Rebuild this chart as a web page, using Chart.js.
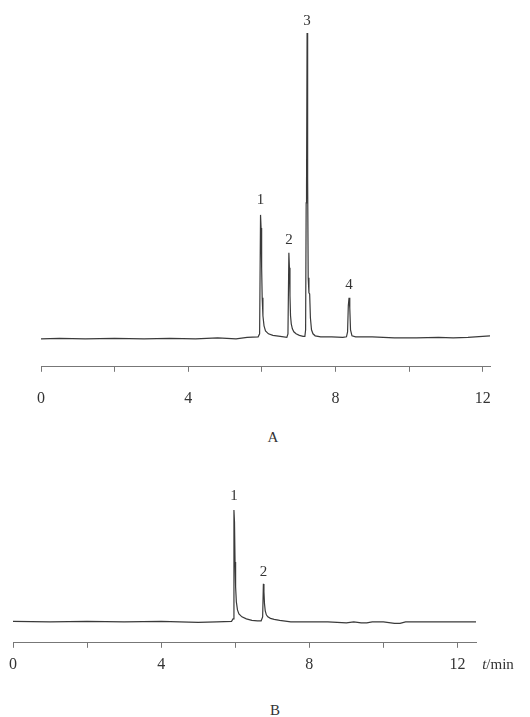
<!DOCTYPE html>
<html>
<head>
<meta charset="utf-8">
<script src="https://cdn.jsdelivr.net/npm/chart.js@4.4.1/dist/chart.umd.min.js"></script>
<style>
  html, body { margin: 0; padding: 0; background: #fff; }
  body { width: 530px; height: 717px; position: relative; overflow: hidden;
         font-family: "Liberation Serif", "DejaVu Serif", serif; color: #333; }
  canvas { position: absolute; left: 0; }
  #chartA { top: 0; }
  #chartB { top: 480px; }
  .lbl { position: absolute; font-size: 15px; line-height: 1; transform: translate(-50%, -50%); white-space: nowrap; }
</style>
</head>
<body>
<canvas id="chartA" width="530" height="425"></canvas>
<canvas id="chartB" width="530" height="201"></canvas>
<div class="lbl" style="left:273px;top:437px">A</div>
<div class="lbl" style="left:275px;top:710px">B</div>
<div class="lbl" style="left:498px;top:664px"><i>t</i>/min</div>
<script>
// Axis ticks (retention time, min)
const tickValues = [0, 2, 4, 6, 8, 10, 12];
const labeledTicks = [0, 4, 8, 12];

// Chromatogram A: time (min) / detector response (arbitrary units)
const timesA = [
  0, 0.5, 1.2, 2.0, 2.8, 3.5, 4.2, 4.8, 5.3, 5.6,
  5.9, 5.94, 5.965, 5.98, 5.995, 6.01, 6.03, 6.06, 6.10, 6.18,
  6.30, 6.50, 6.68, 6.71, 6.735, 6.75, 6.765, 6.78, 6.80, 6.83,
  6.87, 6.93, 7.02, 7.12, 7.17, 7.19, 7.205, 7.215, 7.23, 7.245,
  7.26, 7.28, 7.30, 7.32, 7.35, 7.39, 7.45, 7.60, 7.90, 8.20,
  8.30, 8.33, 8.35, 8.37, 8.39, 8.41, 8.45, 8.55, 9.0, 9.6,
  10.2, 10.8, 11.2, 11.6, 12.0, 12.2
];
const signalA = [
  -1, -0.5, -1, -0.5, -1, -0.5, -1, 0, -1, 0.5,
  1, 4, 123, 110, 70, 40, 22, 12, 7, 4,
  2.5, 1.5, 0.5, 4, 85, 70, 42, 22, 14, 9,
  6, 4, 2.5, 1.5, 1.5, 8, 135, 150, 305, 160,
  60, 45, 44, 20, 8, 4, 2, 1, 1, 0.5,
  1, 6, 32, 40, 30, 8, 2, 1, 1, 0,
  0, 0.5, 0, 0.5, 1.5, 2
];
const peakNamesA = ['1', '2', '3', '4'];
const peakTimesA = [5.965, 6.74, 7.225, 8.37];
const peakLabelLevelA = [138, 98, 317, 53];

// Chromatogram B
const timesB = [
  0, 1, 2, 3, 4, 5, 5.5, 5.9, 5.94, 5.965,
  5.98, 5.995, 6.01, 6.03, 6.06, 6.10, 6.18, 6.30, 6.45, 6.60,
  6.70, 6.74, 6.76, 6.775, 6.79, 6.81, 6.84, 6.88, 6.95, 7.05,
  7.2, 7.5, 8.0, 8.5, 9.0, 9.2, 9.4, 9.55, 9.7, 10.0,
  10.3, 10.45, 10.6, 11.0, 11.5, 12.0, 12.5
];
const signalB = [
  0.5, 0, 0.5, 0, 0.5, -0.5, 0, 0.5, 3, 112,
  100, 60, 35, 20, 12, 8, 5, 3, 1.5, 1,
  1, 5, 38, 30, 18, 11, 7, 5, 3.5, 2.5,
  1.5, 0, 0, 0, -1, 0, -1, -1, 0, 0,
  -1.5, -1.5, 0, 0, 0, 0, 0
];
const peakNamesB = ['1', '2'];
const peakTimesB = [5.965, 6.76];
const peakLabelLevelB = [126, 50];

const FONT = '"Liberation Serif", "DejaVu Serif", serif';

// draws the peak numbers above each peak
const peakLabelPlugin = {
  id: 'peakLabels',
  afterDatasetsDraw(chart, args, opts) {
    const ctx = chart.ctx;
    const xs = chart.scales.x, ys = chart.scales.y;
    ctx.save();
    ctx.font = '15px ' + FONT;
    ctx.fillStyle = '#333';
    ctx.textAlign = 'center';
    ctx.textBaseline = 'middle';
    opts.names.forEach((n, i) => {
      ctx.fillText(n, xs.getPixelForValue(opts.times[i]), ys.getPixelForValue(opts.levels[i]));
    });
    ctx.restore();
  }
};

function makeChart(id, times, signal, cfg) {
  return new Chart(document.getElementById(id), {
    type: 'line',
    data: {
      datasets: [{
        data: times.map((t, i) => ({ x: t, y: signal[i] })),
        borderColor: '#3a3a3a',
        borderWidth: 1.2,
        pointRadius: 0,
        tension: 0,
        fill: false
      }]
    },
    options: {
      responsive: false,
      animation: false,
      layout: { padding: cfg.padding },
      plugins: {
        legend: { display: false },
        tooltip: { enabled: false },
        peakLabels: { names: cfg.names, times: cfg.peakTimes, levels: cfg.levels }
      },
      scales: {
        x: {
          type: 'linear',
          min: 0,
          max: cfg.xMax,
          afterBuildTicks: (s) => { s.ticks = tickValues.map(v => ({ value: v })); },
          ticks: {
            callback: (v) => labeledTicks.includes(v) ? String(v) : '',
            font: { family: FONT, size: 16 },
            color: '#333',
            padding: cfg.tickPad,
            maxRotation: 0,
            autoSkip: false
          },
          grid: { drawOnChartArea: false, drawTicks: true, tickLength: 5, color: '#777', lineWidth: 1 },
          border: { display: true, color: '#777', width: 1 }
        },
        y: { display: false, min: cfg.yMin, max: cfg.yMax }
      }
    },
    plugins: [peakLabelPlugin]
  });
}

makeChart('chartA', timesA, signalA, {
  padding: { left: 41, right: 40, top: 10, bottom: 0 },
  xMax: 12.2, yMin: -29, yMax: 328, tickPad: 17,
  names: peakNamesA, peakTimes: peakTimesA, levels: peakLabelLevelA
});

makeChart('chartB', timesB, signalB, {
  padding: { left: 13, right: 54, top: 10, bottom: 0 },
  xMax: 12.5, yMin: -21, yMax: 132, tickPad: 7,
  names: peakNamesB, peakTimes: peakTimesB, levels: peakLabelLevelB
});
</script>
</body>
</html>
